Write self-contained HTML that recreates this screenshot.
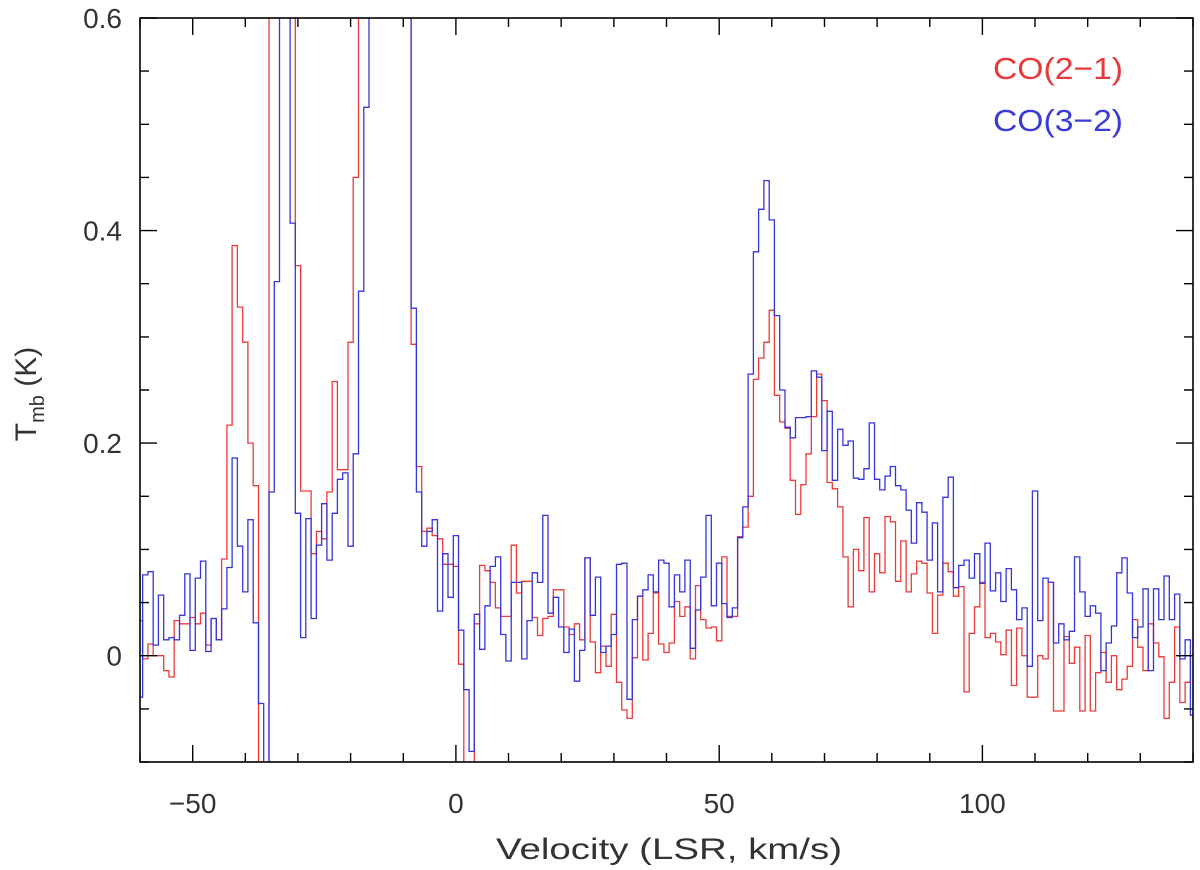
<!DOCTYPE html>
<html><head><meta charset="utf-8">
<style>
html,body{margin:0;padding:0;background:#fff;}
svg{display:block;font-family:"Liberation Sans",sans-serif;}
</style></head>
<body>
<svg id="chart" width="1200" height="870" viewBox="0 0 1200 870" xmlns="http://www.w3.org/2000/svg">
<defs><clipPath id="plotclip"><rect x="140" y="18" width="1053" height="744"/></clipPath></defs>
<g id="series" clip-path="url(#plotclip)"></g>
<g id="axes"></g>
<text x="993" y="79" font-size="31" fill="#e8383a" textLength="130" lengthAdjust="spacingAndGlyphs">CO(2−1)</text>
<text x="993" y="131" font-size="31" fill="#3a3ad8" textLength="130" lengthAdjust="spacingAndGlyphs">CO(3−2)</text>
<text x="669" y="859" font-size="30" fill="#333" text-anchor="middle" textLength="346" lengthAdjust="spacingAndGlyphs">Velocity (LSR, km/s)</text>
<text transform="translate(36,394) rotate(-90)" font-size="30" fill="#333" text-anchor="middle">T<tspan font-size="20" dy="8">mb</tspan><tspan dy="-8"> (K)</tspan></text>
</svg>
<script>
const vStart = -60;
const co21 = [
0.033,-0.003,0.011,0,0,-0.014,-0.02,0.033,0.03,0.03,
0.036,0.03,0.04,0.01,0.035,0.015,0.091,0.217,0.386,0.328,
0.295,0.2,0.16,-0.15,-0.15,0.9,0.9,0.9,0.9,0.9,
0.367,0.155,0.155,0.096,0.117,0.11,0.154,0.258,0.175,0.175,
0.295,0.45,0.9,0.9,0.9,0.9,0.9,0.9,0.9,0.9,
0.9,0.9,0.293,0.178,0.117,0.12,0.113,0.11,0.086,0.086,
0.084,-0.008,-0.15,-0.15,0.03,0.085,0.08,0.069,0.045,0.037,
0.037,0.104,0.059,0.07,0.07,0.036,0.019,0.035,0.037,0.062,
0.062,0.027,0.02,0.03,0.015,0.092,0.013,-0.016,0.009,-0.01,
0.039,-0.025,-0.051,-0.059,-0.002,0.056,-0.004,0.021,0.059,0.011,
0.003,0.012,0.051,0.037,0.046,-0.003,0.066,0.034,0.026,0.027,
0.014,0.093,0.037,0.037,0.112,0.121,0.15,0.26,0.28,0.295,
0.325,0.245,0.22,0.214,0.165,0.133,0.161,0.19,0.225,0.265,
0.24,0.163,0.157,0.14,0.093,0.046,0.1,0.08,0.13,0.06,
0.096,0.078,0.131,0.126,0.07,0.108,0.06,0.077,0.089,0.087,
0.059,0.021,0.057,0.087,0.079,0.056,0.065,-0.034,0.021,0.046,
0.069,0.017,0.021,0.013,0.001,0.024,-0.028,0.026,0.0,-0.039,
-0.039,0.0,-0.003,0.069,-0.052,-0.052,0.018,-0.007,0.008,-0.052,
0.019,-0.052,-0.016,0.003,-0.025,0.0,-0.032,-0.022,-0.01,0.034,
0.008,-0.014,0.03,0.012,-0.001,-0.059,-0.025,0.027,-0.044,-0.025,0.0];
const co32 = [
-0.039,0.076,0.079,0.01,0.057,0.015,0.017,0.015,0.038,0.077,
0.005,0.073,0.089,0.004,0.035,0.015,0.044,0.083,0.186,0.103,
0.06,0.128,0.031,-0.045,-0.15,0.154,0.352,0.9,0.9,0.407,
0.134,0.017,0.129,0.035,0.104,0.143,0.09,0.134,0.166,0.172,
0.103,0.19,0.343,0.516,0.9,0.9,0.9,0.9,0.9,0.9,
0.9,0.9,0.327,0.154,0.103,0.117,0.128,0.042,0.096,0.055,
0.113,0.024,-0.032,-0.09,0.039,0.006,0.047,0.084,0.093,0.02,
-0.005,0.069,0.069,-0.003,0.033,0.078,0.069,0.132,0.04,0.055,
0.027,0.003,0.025,-0.024,0.005,0.092,0.038,0.074,0.003,0.009,
0.02,0.086,0.087,-0.041,0.034,0.056,0.062,0.076,0.06,0.09,
0.087,0.046,0.076,0.06,0.09,0.007,0.043,0.074,0.132,0.047,
0.087,0.049,0.036,0.045,0.111,0.14,0.265,0.38,0.42,0.447,
0.41,0.32,0.25,0.215,0.205,0.224,0.224,0.225,0.268,0.262,
0.193,0.23,0.165,0.213,0.198,0.202,0.167,0.166,0.176,0.219,
0.166,0.156,0.169,0.178,0.16,0.156,0.137,0.106,0.144,0.135,
0.09,0.125,0.06,0.149,0.168,0.064,0.085,0.09,0.073,0.096,
0.068,0.106,0.061,0.078,0.051,0.082,0.062,0.034,0.045,-0.01,
0.155,0.033,0.073,0.069,0.012,0.03,0.015,0.023,0.093,0.06,
0.037,0.047,0.04,-0.014,0.012,0.028,0.078,0.092,0.059,0.017,
0.027,0.063,-0.014,0.063,0.034,0.075,0.034,0.058,-0.003,0.015,-0.056];
const xTickLabels = [-50, 0, 50, 100];
const yTickLabels = [0, 0.2, 0.4, 0.6];

const X0=140, X1=1193, Y0=18, Y1=762;
const xMin=-60, xMax=140, yMin=-0.1, yMax=0.6;
function xs(v){return X0+(v-xMin)/(xMax-xMin)*(X1-X0);}
function ys(t){return Y1-(t-yMin)/(yMax-yMin)*(Y1-Y0);}
const NS="http://www.w3.org/2000/svg";
function mk(tag,attrs,parent){const e=document.createElementNS(NS,tag);for(const k in attrs)e.setAttribute(k,attrs[k]);parent.appendChild(e);return e;}

const series=document.getElementById('series');
function stepPath(vals){
  let d='';
  vals.forEach((t,i)=>{const v=vStart+i;const y=ys(t).toFixed(1);
    if(i===0)d+='M'+xs(v-0.5).toFixed(1)+' '+y;else d+=' V'+y;
    d+=' H'+xs(v+0.5).toFixed(1);});
  return d;
}
const p1=mk('path',{d:stepPath(co21),fill:'none',stroke:'#ea3a3a','stroke-width':1.3},series);


const p2=mk('path',{d:stepPath(co32),fill:'none',stroke:'#3535dc','stroke-width':1.3},series);



const axes=document.getElementById('axes');
const frame=mk('rect',{x:X0,y:Y0,width:X1-X0,height:Y1-Y0,fill:'none',stroke:'#000','stroke-width':1.6},axes);


let tk='';
for(let v=-60;v<=140;v+=10){const x=xs(v).toFixed(1);const L=(v%50===0)?17:9;
  tk+=`M${x} ${Y1}V${Y1-L}M${x} ${Y0}V${Y0+L}`;}
for(let k=-2;k<=12;k++){const t=k*0.05;const y=ys(t).toFixed(1);const L=(k%4===0)?17:9;
  tk+=`M${X0} ${y}H${X0+L}M${X1} ${y}H${X1-L}`;}
const ticks=mk('path',{d:tk,stroke:'#000','stroke-width':1.4,fill:'none'},axes);


xTickLabels.forEach(v=>{
  const t=mk('text',{x:xs(v),y:813,'font-size':28,fill:'#333','text-anchor':'middle'},axes);
  t.textContent=(v<0?'−':'')+Math.abs(v);
  
  
});
yTickLabels.forEach(v=>{
  const t=mk('text',{x:122,y:ys(v)+10,'font-size':28,fill:'#333','text-anchor':'end'},axes);
  t.textContent=v===0?'0':v.toFixed(1);
  
  
});
</script>
</body></html>
